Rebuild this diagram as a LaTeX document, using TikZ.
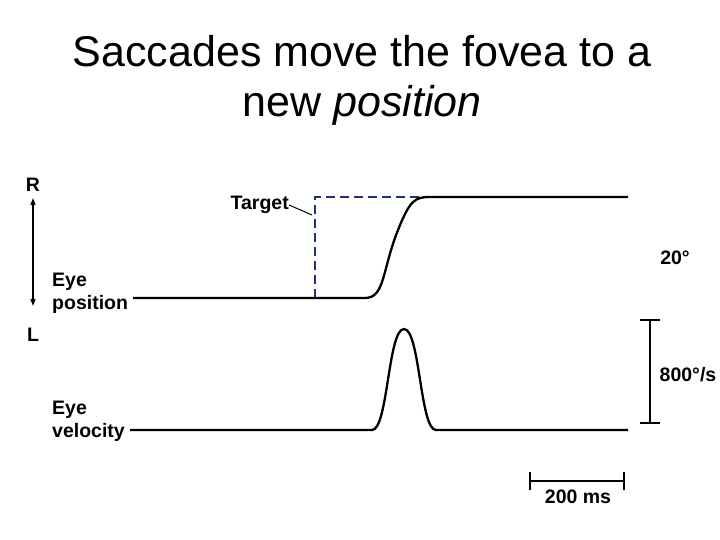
\documentclass[tikz,border=0pt]{standalone}
\usepackage{fontspec}
\setmainfont{Liberation Sans}
\usetikzlibrary{arrows.meta}
\begin{document}
\begin{tikzpicture}[x=1pt,y=-1pt,
  lbl/.style={font=\fontsize{19.5}{23}\selectfont\bfseries,inner sep=0},
  trace/.style={line width=2.3pt},
  bar/.style={line width=1.3pt}]
\useasboundingbox (0,0) rectangle (720,540);
\node[font=\fontsize{43}{50}\selectfont,align=center] (title) at (362,80) {Saccades move the fovea to a\\new \textit{position}};
\node[lbl] (R) at (33,185) {R};
\node[lbl] (L) at (33,335) {L};
\draw[line width=1.2pt,{Triangle[width=5pt,length=7pt]}-{Triangle[width=5pt,length=7pt]}] (33,198) -- (33,306);
\node[lbl,anchor=west,align=left] (ep) at (52,293) {Eye\\position};
\node[lbl,anchor=west,align=left] (ev) at (52,421) {Eye\\velocity};
\draw[draw={rgb,255:red,30;green,50;blue,120},line width=1.3pt,dash pattern=on 9pt off 5pt] (315,298) -- (315,197) -- (430,197);
\draw[trace] (133,298) -- (365,298) .. controls (385,298) and (382,270) .. (398,230) .. controls (410,200) and (415,197) .. (430,197) -- (628,197);
\node[lbl,anchor=east] (tg) at (289,205) {Target};
\coordinate (tgend) at (312,215);
\draw[line width=1pt] (tg.east) -- (tgend);
\node[lbl] (d20) at (675,258) {20°};
\draw[trace] (130,430) -- (372,430) .. controls (388,430) and (388,329) .. (404,329) .. controls (420,329) and (420,430) .. (436,430) -- (628,430);
\coordinate (vt) at (650,320); \coordinate (vb) at (650,423);
\draw[bar] (vt) -- (vb);
\draw[bar] (640,320) -- (660,320) (640,423) -- (660,423);
\node[lbl] (v800) at (688,375) {800°/s};
\coordinate (hl) at (530,481); \coordinate (hr) at (624,481);
\draw[bar] (hl) -- (hr);
\draw[bar] (530,472) -- (530,490) (624,472) -- (624,490);
\node[lbl] (ms) at (578,497) {200 ms};
\end{tikzpicture}
\end{document}
